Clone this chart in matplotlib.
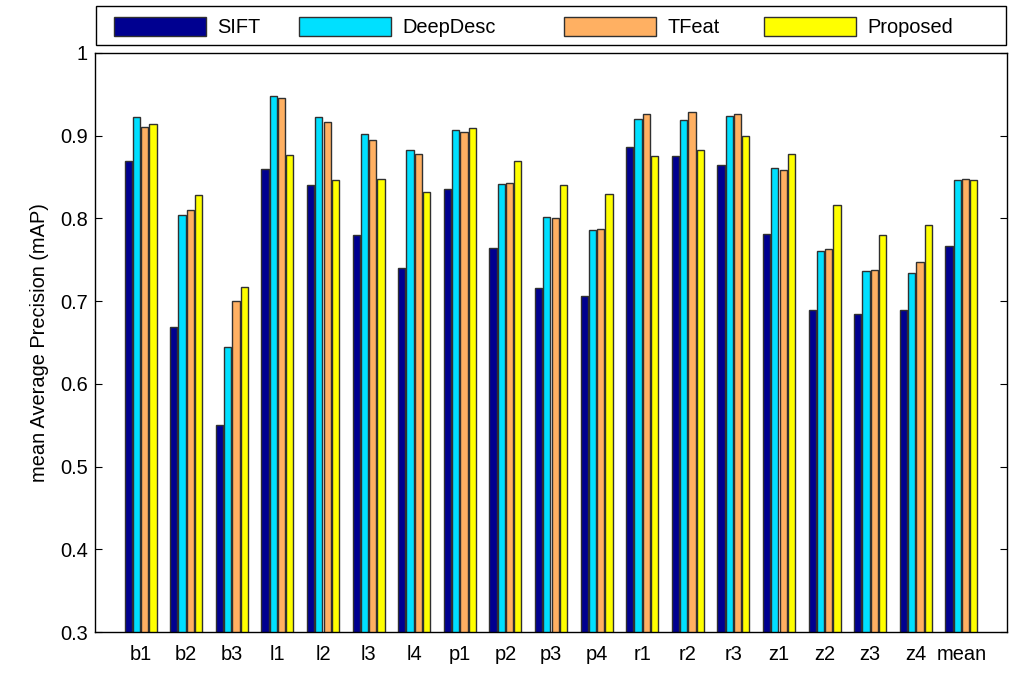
import matplotlib
matplotlib.use('Agg')
import matplotlib.pyplot as plt
from matplotlib.patches import Rectangle
import numpy as np

# sequences of the benchmark plus the overall mean
categories = ['b1', 'b2', 'b3', 'l1', 'l2', 'l3', 'l4', 'p1', 'p2', 'p3', 'p4',
              'r1', 'r2', 'r3', 'z1', 'z2', 'z3', 'z4', 'mean']

sift = [0.869, 0.669, 0.550, 0.860, 0.840, 0.780, 0.740, 0.835, 0.764, 0.716, 0.706,
        0.886, 0.875, 0.864, 0.781, 0.689, 0.684, 0.689, 0.767]
deepdesc = [0.923, 0.804, 0.645, 0.948, 0.923, 0.902, 0.883, 0.907, 0.842, 0.802, 0.786,
            0.920, 0.919, 0.924, 0.861, 0.761, 0.737, 0.734, 0.846]
tfeat = [0.910, 0.810, 0.700, 0.946, 0.917, 0.895, 0.878, 0.905, 0.843, 0.800, 0.787,
         0.926, 0.929, 0.926, 0.859, 0.763, 0.738, 0.747, 0.848]
proposed = [0.914, 0.828, 0.717, 0.877, 0.846, 0.848, 0.832, 0.909, 0.869, 0.840, 0.829,
            0.875, 0.883, 0.900, 0.878, 0.816, 0.780, 0.792, 0.846]

series = [('SIFT', sift, '#000090'),
          ('DeepDesc', deepdesc, '#00E0FF'),
          ('TFeat', tfeat, '#FFB062'),
          ('Proposed', proposed, '#FFFF00')]

plt.rcParams['font.family'] = ['Liberation Sans', 'DejaVu Sans']
plt.rcParams['font.size'] = 14.4

W, H = 1034, 680
fig = plt.figure(figsize=(W/100, H/100), dpi=100)
ax = fig.add_axes([95/W, 1-632/H, 912/W, 579/H])

x = np.arange(1, len(categories)+1)
pitch = 0.182
width = 0.16
bars = []
for i, (name, vals, col) in enumerate(series):
	b = ax.bar(x + (i-1.5)*pitch, vals, width, color=col, edgecolor='#303030',
	           linewidth=1.0, label=name)
	bars.append(b)

ax.set_xlim(0, 20)
ax.set_ylim(0.3, 1.0)
ax.set_yticks(np.arange(0.3, 1.01, 0.1))
ax.set_yticklabels(['0.3', '0.4', '0.5', '0.6', '0.7', '0.8', '0.9', '1'])
ax.set_xticks(x)
ax.set_xticklabels(categories)
ax.tick_params(axis='x', length=0, pad=9)
ax.tick_params(axis='y', direction='in', right=True, length=5, pad=5)
for sp in ax.spines.values():
	sp.set_linewidth(1.0)

ax.set_ylabel('mean Average Precision (mAP)', labelpad=8)

# legend: one outer box, entries placed like the original (uneven spacing)
fig.add_artist(Rectangle((96/W, 1-45/H), 910/W, 39/H, transform=fig.transFigure,
                         facecolor='white', edgecolor='black', linewidth=1.0))
entry_x = [114, 299, 564, 764]
for b, (name, vals, col), ex in zip(bars, series, entry_x):
	fig.legend([b], [name], loc='center left', bbox_to_anchor=(ex/W, 1-27/H),
	           frameon=False, borderpad=0, borderaxespad=0,
	           handlelength=4.6, handleheight=1.1, handletextpad=0.55)

fig.savefig('out.png', dpi=100)
